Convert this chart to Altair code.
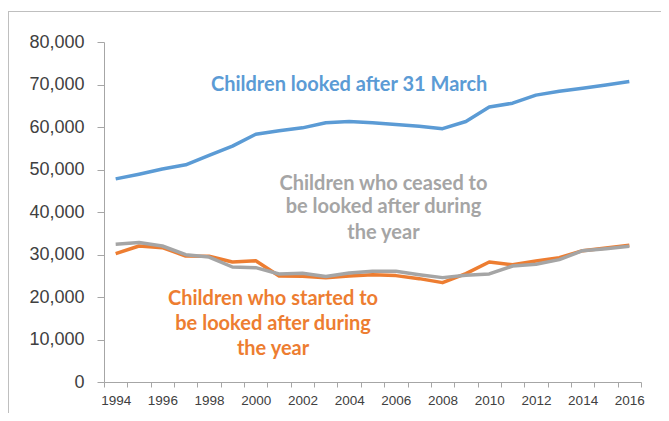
import altair as alt
import pandas as pd

years = list(range(1994, 2017))
looked_after = [47800, 48900, 50100, 51100, 53300, 55500, 58300, 59100, 59800, 61000, 61300,
                61000, 60600, 60200, 59600, 61300, 64700, 65600, 67500, 68400, 69100, 69900, 70700]
started = [30200, 32000, 31600, 29650, 29580, 28250, 28550, 24950, 24870, 24550, 24950,
           25260, 25030, 24320, 23380, 25500, 28240, 27600, 28480, 29260, 30900, 31540, 32160]
ceased = [32400, 32800, 32000, 29960, 29400, 27060, 26900, 25400, 25600, 24800, 25650,
          26040, 26040, 25260, 24560, 25100, 25420, 27300, 27700, 28800, 30900, 31380, 31930]

series_names = ["Children looked after 31 March",
                "Children who started to be looked after during the year",
                "Children who ceased to be looked after during the year"]
colors = ["#5B9BD5", "#ED7D31", "#A5A5A5"]

label_lines = ["Children looked after 31 March",
               "Children who ceased to", "be looked after during", "the year",
               "Children who started to", "be looked after during", "the year"]
label_year = [2004.0, 2005.47, 2005.47, 2005.47, 2000.74, 2000.74, 2000.74]
label_value = [69900, 46700, 41100, 35000, 19620, 13740, 7860]
label_series = [series_names[0], series_names[2], series_names[2], series_names[2],
                series_names[1], series_names[1], series_names[1]]

y_ticks = list(range(0, 80001, 10000))
x_bounds = [y - 0.5 for y in range(1994, 2018)]
x_labels = [y for y in years if y % 2 == 0]

W, H = 537, 340
PAD_L, PAD_T, PAD_R, PAD_B = 96, 34, 20, 31

color_scale = alt.Scale(domain=series_names, range=colors)

x_enc = alt.X("year:Q",
              scale=alt.Scale(domain=[1993.5, 2016.5], nice=False, zero=False),
              axis=alt.Axis(values=sorted(x_bounds + x_labels), title=None, grid=False,
                            labelExpr="datum.value % 2 === 0 ? '' + datum.value : ''",
                            labelOverlap=False, labelBound=False, labelFlush=False,
                            tickOpacity={"condition": {"test": "datum.value % 1 !== 0", "value": 1}, "value": 0},
                            tickSize=5, tickColor="#A6A6A6", domainColor="#A6A6A6",
                            labelFont="Liberation Sans", labelFontSize=13.5, labelColor="#404040",
                            labelPadding=6))
y_enc = alt.Y("value:Q",
              scale=alt.Scale(domain=[0, 80000], nice=False),
              axis=alt.Axis(values=y_ticks, format=",d", title=None, grid=False,
                            tickSize=7, tickColor="#A6A6A6", domainColor="#A6A6A6",
                            labelFont="Liberation Sans", labelFontSize=18, labelColor="#404040",
                            labelPadding=13))
color_enc = alt.Color("series:N", scale=color_scale, legend=None)

layers = []
for name, vals in zip(series_names, [looked_after, started, ceased]):
    df = pd.DataFrame({"year": years, "value": vals, "series": name})
    layers.append(
        alt.Chart(df).mark_line(strokeWidth=3.5, strokeJoin="round").encode(
            x=x_enc, y=y_enc, color=color_enc)
    )

labels_df = pd.DataFrame({"year": label_year, "value": label_value,
                          "text": label_lines, "series": label_series})
texts = alt.Chart(labels_df).mark_text(font="Lato", fontWeight="bold", fontSize=20,
                                       align="center", baseline="middle").encode(
    x=x_enc, y=y_enc, text="text:N", color=color_enc)

frame_top = alt.Chart(pd.DataFrame({"a": [0]})).mark_rule(color="#BFBFBF", strokeWidth=1).encode(
    x=alt.value(-PAD_L), x2=alt.value(W + PAD_R), y=alt.value(-30.5))
frame_left = alt.Chart(pd.DataFrame({"a": [0]})).mark_rule(color="#BFBFBF", strokeWidth=1).encode(
    x=alt.value(-PAD_L + 0.5), y=alt.value(-30.5), y2=alt.value(H + PAD_B))

chart = alt.layer(*layers, texts, frame_top, frame_left).properties(
    width=W, height=H,
    autosize=alt.AutoSizeParams(type="none"),
    padding={"left": PAD_L, "top": PAD_T, "right": PAD_R, "bottom": PAD_B},
    background="white",
).configure_view(stroke=None)

chart.save("out.html", embed_options={"renderer": "svg", "actions": False})
